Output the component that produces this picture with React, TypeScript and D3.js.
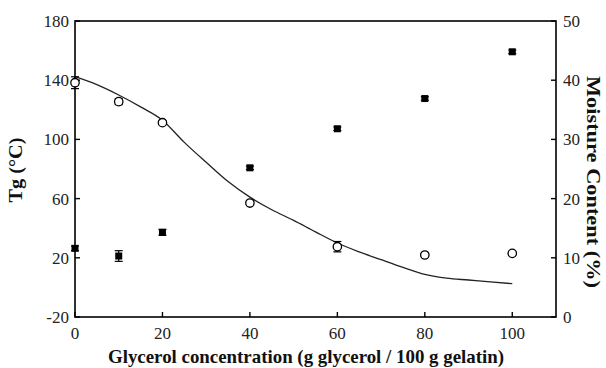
import React, { useEffect, useRef } from "react";
import * as d3 from "d3";

// Glycerol concentration (g glycerol / 100 g gelatin)
const glycerol = [0, 10, 20, 40, 60, 80, 100];
// Glass transition temperature, °C (open circles, left axis)
const tgValues = [138.3, 125.5, 111.3, 57, 27.5, 21.9, 23];
const tgErrors = [4, 2, 1, 1, 3.5, 1, 1];
// Moisture content, % (filled squares, right axis)
const moistureValues = [11.6, 10.3, 14.3, 25.2, 31.8, 36.9, 44.8];
const moistureErrors = [0.4, 0.9, 0.5, 0.3, 0.3, 0.3, 0.3];
// Model curve for Tg (left axis)
const curveX = [0, 5, 10, 15, 20, 25, 30, 35, 40, 45, 50, 55, 60, 65, 70, 75, 80, 85, 90, 95, 100];
const curveTg = [142.4, 137, 130, 122, 113, 98, 84.5, 71.5, 61, 52.5, 45.3, 37.5, 30, 24, 18.7, 13.5, 8.8, 6.2, 5, 3.8, 2.5];

const xTicks = [0, 20, 40, 60, 80, 100];
const tgTicks = [-20, 20, 60, 100, 140, 180];
const moistureTicks = [0, 10, 20, 30, 40, 50];

const W = 606;
const H = 368;
const M = { left: 75, right: 556, top: 21, bottom: 317 };
const FONT = "'Liberation Serif', 'Times New Roman', Times, serif";

export default function App() {
  const ref = useRef<SVGSVGElement | null>(null);

  useEffect(() => {
    const svg = d3.select(ref.current);
    svg.selectAll("*").remove();

    const x = d3.scaleLinear().domain([0, 110]).range([M.left, M.right]);
    const yL = d3.scaleLinear().domain([-20, 180]).range([M.bottom, M.top]);
    const yR = d3.scaleLinear().domain([0, 50]).range([M.bottom, M.top]);

    // Frame: left, bottom, right axes and top border
    svg.append("rect")
      .attr("x", M.left).attr("y", M.top)
      .attr("width", M.right - M.left).attr("height", M.bottom - M.top)
      .attr("fill", "none").attr("stroke", "#000").attr("stroke-width", 1.6);

    const tickLen = 5;
    const g = svg.append("g").style("font-family", FONT).attr("font-size", 17).attr("fill", "#222");

    xTicks.forEach((t) => {
      g.append("line").attr("x1", x(t)).attr("x2", x(t)).attr("y1", M.bottom).attr("y2", M.bottom - tickLen)
        .attr("stroke", "#000").attr("stroke-width", 1.4);
      g.append("text").attr("x", x(t)).attr("y", M.bottom + 22).attr("text-anchor", "middle").text(t);
    });
    tgTicks.forEach((t) => {
      g.append("line").attr("x1", M.left).attr("x2", M.left + tickLen).attr("y1", yL(t)).attr("y2", yL(t))
        .attr("stroke", "#000").attr("stroke-width", 1.4);
      g.append("text").attr("x", M.left - 6).attr("y", yL(t)).attr("dy", "0.35em").attr("text-anchor", "end").text(t);
    });
    moistureTicks.forEach((t) => {
      g.append("line").attr("x1", M.right).attr("x2", M.right - tickLen).attr("y1", yR(t)).attr("y2", yR(t))
        .attr("stroke", "#000").attr("stroke-width", 1.4);
      g.append("text").attr("x", M.right + 7).attr("y", yR(t)).attr("dy", "0.35em").attr("text-anchor", "start").text(t);
    });

    // Axis titles
    const titles = svg.append("g").style("font-family", FONT).attr("font-weight", "bold").attr("fill", "#111");
    titles.append("text").attr("x", 306).attr("y", 363).attr("text-anchor", "middle")
      .attr("font-size", 19).attr("textLength", 396).attr("lengthAdjust", "spacingAndGlyphs")
      .text("Glycerol concentration (g glycerol / 100 g gelatin)");
    titles.append("text").attr("transform", "translate(22,170) rotate(-90)").attr("text-anchor", "middle")
      .attr("font-size", 19).attr("textLength", 65).attr("lengthAdjust", "spacingAndGlyphs")
      .text("Tg (°C)");
    titles.append("text").attr("transform", "translate(587,182) rotate(90)").attr("text-anchor", "middle")
      .attr("font-size", 18).attr("textLength", 212).attr("lengthAdjust", "spacingAndGlyphs")
      .text("Moisture Content (%)");

    // Model curve
    const line = d3.line<number>().x((_, i) => x(curveX[i])).y((d) => yL(d)).curve(d3.curveMonotoneX);
    svg.append("path").datum(curveTg).attr("d", line).attr("fill", "none").attr("stroke", "#222").attr("stroke-width", 1.3);

    // Error bars
    const errBar = (cx: number, lo: number, hi: number) => {
      svg.append("line").attr("x1", cx).attr("x2", cx).attr("y1", lo).attr("y2", hi).attr("stroke", "#000").attr("stroke-width", 1.2);
      [lo, hi].forEach((yy) => svg.append("line").attr("x1", cx - 4).attr("x2", cx + 4).attr("y1", yy).attr("y2", yy).attr("stroke", "#000").attr("stroke-width", 1.2));
    };
    glycerol.forEach((c, i) => {
      errBar(x(c), yL(tgValues[i] - tgErrors[i]), yL(tgValues[i] + tgErrors[i]));
      errBar(x(c), yR(moistureValues[i] - moistureErrors[i]), yR(moistureValues[i] + moistureErrors[i]));
    });

    // Moisture content markers
    svg.append("g").selectAll("rect").data(moistureValues).join("rect")
      .attr("x", (_, i) => x(glycerol[i]) - 3.5).attr("y", (d) => yR(d) - 3.5)
      .attr("width", 7).attr("height", 7).attr("fill", "#000");

    // Tg markers
    svg.append("g").selectAll("circle").data(tgValues).join("circle")
      .attr("cx", (_, i) => x(glycerol[i])).attr("cy", (d) => yL(d)).attr("r", 4.2)
      .attr("fill", "#fff").attr("stroke", "#000").attr("stroke-width", 1.3);
  }, []);

  return (
    <svg ref={ref} width={W} height={H} style={{ position: "absolute", left: 0, top: 0, background: "#fff" }} />
  );
}
